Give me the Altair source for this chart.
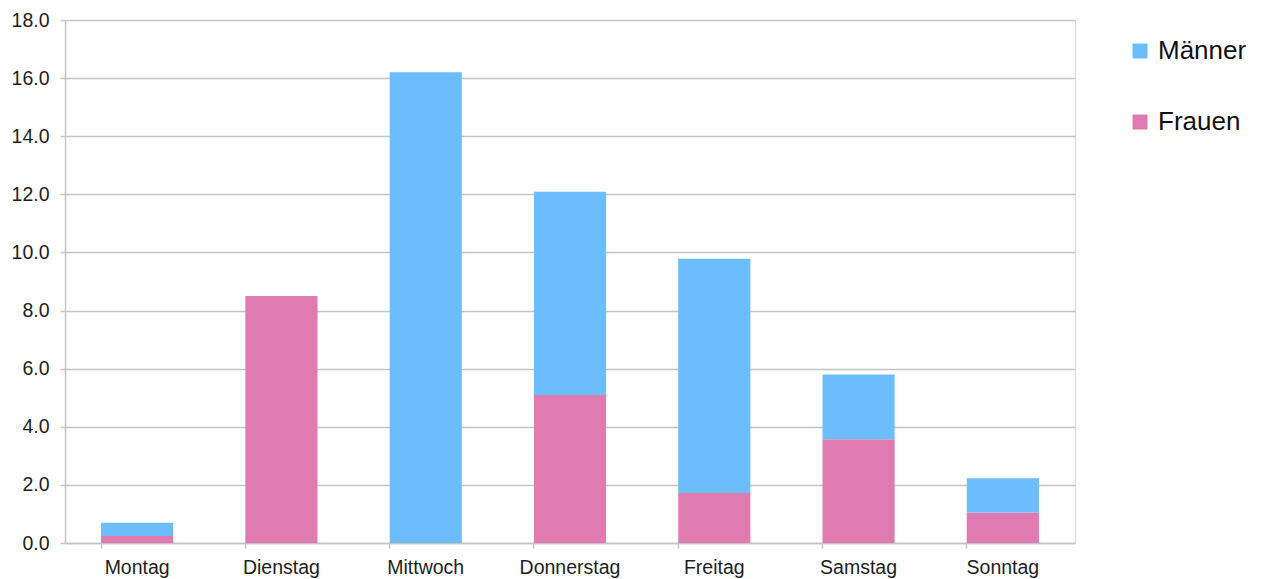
import altair as alt
import pandas as pd

days = ["Montag", "Dienstag", "Mittwoch", "Donnerstag", "Freitag", "Samstag", "Sonntag"]
frauen = [0.24, 8.5, 0.0, 5.09, 1.72, 3.57, 1.05]
maenner = [0.46, 0.0, 16.2, 7.0, 8.06, 2.23, 1.18]
series = ["Männer", "Frauen"]
colors = ["#6bbdfb", "#e07bb2"]
y_ticks = [0, 2, 4, 6, 8, 10, 12, 14, 16, 18]

rows = []
for d, f, m in zip(days, frauen, maenner):
    rows.append({"Tag": d, "Gruppe": "Frauen", "Wert": f, "ord": 0})
    rows.append({"Tag": d, "Gruppe": "Männer", "Wert": m, "ord": 1})
df = pd.DataFrame(rows)

grid = "#c4c4c4"
font = "Liberation Sans"
txt = "#1e1e1e"

xscale = alt.Scale(domain=days, paddingInner=0.5, paddingOuter=0.25)

bars = alt.Chart(df).mark_bar().encode(
    x=alt.X("Tag:N", sort=days, scale=xscale, title=None,
            axis=alt.Axis(orient="bottom", labelAngle=0, ticks=False, domain=True,
                          domainColor=grid, domainWidth=1.5, labelFontSize=19.5,
                          labelColor=txt, labelFont=font, labelPadding=15,
                          grid=False)),
    y=alt.Y("Wert:Q", stack="zero", scale=alt.Scale(domain=[0, 18], nice=False),
            title=None,
            axis=alt.Axis(values=y_ticks, format=".1f", labelFontSize=19.5,
                          labelColor=txt, labelFont=font, gridColor=grid,
                          gridWidth=1.5, domainColor=grid, domainWidth=1.5,
                          tickColor=grid, tickWidth=1.5, tickSize=5, labelPadding=11)),
    color=alt.Color("Gruppe:N", scale=alt.Scale(domain=series, range=colors),
                    legend=alt.Legend(title=None, orient="none", legendX=1062, legendY=18,
                                      symbolType="square", symbolSize=225,
                                      symbolStrokeWidth=0, labelFontSize=26,
                                      labelFont=font, labelColor="#111111",
                                      rowPadding=45, labelOffset=5)),
    order=alt.Order("ord:Q"),
)

ticks_layer = alt.Chart(df).mark_tick(opacity=0).encode(
    x=alt.X("Tag:N", sort=days, scale=xscale, title=None,
            axis=alt.Axis(orient="bottom", labels=False, ticks=True, bandPosition=0,
                          tickColor=grid, tickWidth=1.5, tickSize=5, domain=False,
                          grid=False)),
)

chart = alt.layer(bars, ticks_layer).resolve_axis(x="independent").properties(
    width=1010, height=523,
    autosize=alt.AutoSizeParams(type="none"),
    padding={"left": 57, "top": 12, "right": 178, "bottom": 38},
).configure_view(stroke=grid, strokeWidth=1.5).configure(background="white")

chart.save("out.html", embed_options={"renderer": "svg", "actions": False})
